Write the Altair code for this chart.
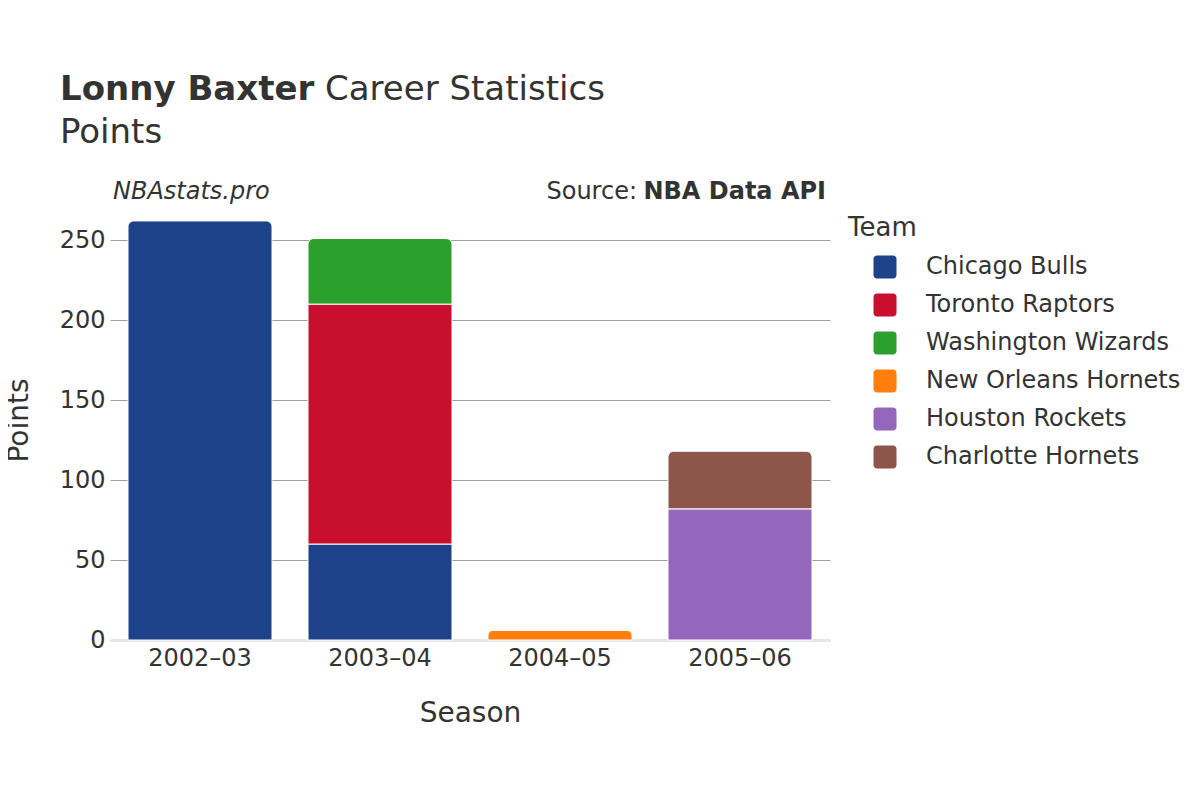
import altair as alt
import pandas as pd

seasons = ["2002–03", "2003–04", "2003–04", "2003–04", "2004–05", "2005–06", "2005–06"]
teams = ["Chicago Bulls", "Chicago Bulls", "Toronto Raptors", "Washington Wizards",
         "New Orleans Hornets", "Houston Rockets", "Charlotte Hornets"]
points = [262, 60, 150, 41, 6, 82, 36]

season_order = ["2002–03", "2003–04", "2004–05", "2005–06"]
team_order = ["Chicago Bulls", "Toronto Raptors", "Washington Wizards",
              "New Orleans Hornets", "Houston Rockets", "Charlotte Hornets"]
team_colors = ["#1d428a", "#c8102e", "#2ca02c", "#ff7f0e", "#9467bd", "#8c564b"]

df = pd.DataFrame({"Season": seasons, "Team": teams, "Points": points})
df["order"] = [team_order.index(t) for t in teams]

FONT = "DejaVu Sans"
ymax = max(df.groupby("Season")["Points"].sum()) * 1.05

base = alt.Chart(df).transform_window(
    cum="sum(Points)", groupby=["Season"], sort=[alt.SortField("order")],
    frame=[None, 0]
).transform_joinaggregate(
    total="sum(Points)", groupby=["Season"]
).transform_calculate(
    start="datum.cum - datum.Points",
    top="datum.cum == datum.total"
)

x_enc = alt.X("Season:N", sort=season_order, title="Season",
              scale=alt.Scale(paddingInner=0.2, paddingOuter=0.1),
              axis=alt.Axis(labelAngle=0, labelFontSize=24, titleFontSize=28,
                            labelPadding=6, titlePadding=29, ticks=False,
                            domainColor="#e6e6e6", domainWidth=3,
                            labelColor="#333333", titleColor="#333333",
                            titleFontWeight="normal"))
y_enc = alt.Y("cum:Q", title="Points",
              scale=alt.Scale(domain=[0, ymax], nice=False),
              axis=alt.Axis(values=[0, 50, 100, 150, 200, 250], labelFontSize=24,
                            titleFontSize=28, ticks=False, labelPadding=5,
                            titlePadding=26, domain=False, gridColor="#a0a0a0",
                            gridWidth=1, labelColor="#333333", titleColor="#333333",
                            titleFontWeight="normal"))
color_enc = alt.Color("Team:N", sort=team_order,
                      scale=alt.Scale(domain=team_order, range=team_colors),
                      legend=alt.Legend(title="Team", orient="none", legendX=738,
                                        legendY=15, titleFontSize=26, labelFontSize=24,
                                        titleFontWeight="normal", titleColor="#333333",
                                        labelColor="#333333", symbolSize=529,
                                        labelLimit=400,
                                        symbolType="M-0.7,-1H0.7A0.3,0.3 0 0 1 1,-0.7V0.7A0.3,0.3 0 0 1 0.7,1H-0.7A0.3,0.3 0 0 1 -1,0.7V-0.7A0.3,0.3 0 0 1 -0.7,-1Z",
                                        symbolStrokeWidth=0, symbolOpacity=1,
                                        symbolOffset=25, labelOffset=29,
                                        rowPadding=14, titlePadding=14))

lower = base.transform_filter("!datum.top").mark_bar(stroke="white", strokeWidth=1).encode(
    x=x_enc, y=y_enc, y2="start:Q", color=color_enc)
upper = base.transform_filter("datum.top").mark_bar(
    stroke="white", strokeWidth=1, cornerRadiusTopLeft=6, cornerRadiusTopRight=6).encode(
    x=x_enc, y=y_enc, y2="start:Q", color=color_enc)

one = pd.DataFrame({"a": [0]})

def txt(s, x, y, size, weight="normal", style="normal", align="left", baseline="alphabetic"):
    return alt.Chart(one).mark_text(
        text=s, font=FONT, fontSize=size, fontWeight=weight, fontStyle=style,
        align=align, baseline=baseline, color="#333333"
    ).encode(x=alt.value(x), y=alt.value(y))

title1 = txt("Lonny Baxter", -50, -100, 34, weight="bold")
title2 = txt("Career Statistics", 215, -100, 34)
title3 = txt("Points", -50, -57, 34)
src1 = txt("NBAstats.pro", 3, -8, 24, style="italic", baseline="middle")
src2 = txt("NBA Data API", 716, -8, 24, weight="bold", align="right", baseline="middle")
src3 = txt("Source:", 527, -8, 24, align="right", baseline="middle")

chart = alt.layer(lower, upper, title1, title2, title3, src1, src2, src3).properties(
    width=720, height=440,
    autosize=alt.AutoSizeParams(type="none"),
    padding={"left": 102, "top": 192, "right": 362, "bottom": 152},
).configure(font=FONT).configure_view(stroke=None)

chart.save("out.html", embed_options={"renderer": "svg", "actions": False})
